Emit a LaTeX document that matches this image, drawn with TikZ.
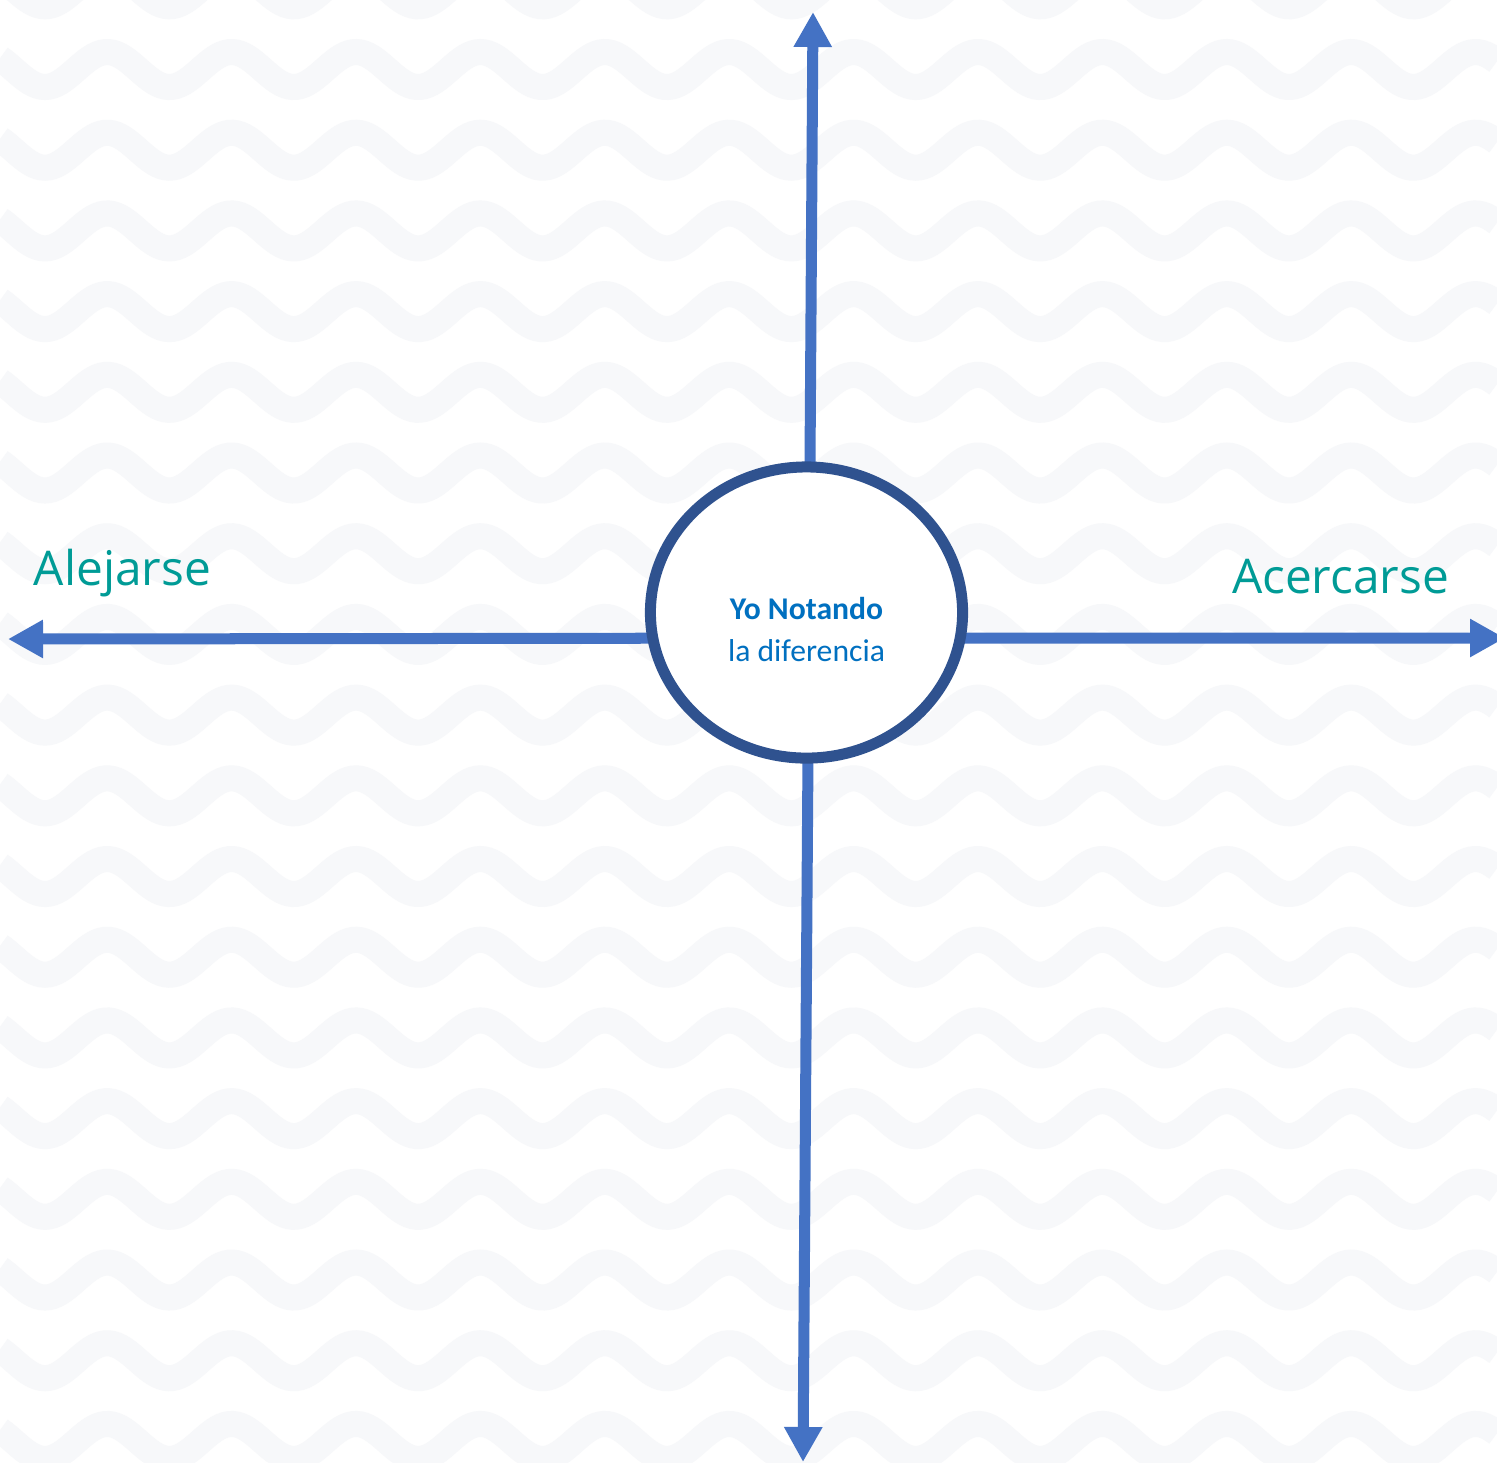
\documentclass[tikz,border=0pt]{standalone}
\usepackage{fontspec}
\usepackage{tikz}
\usetikzlibrary{arrows.meta}
\usetikzlibrary{shapes.geometric}
\usetikzlibrary{backgrounds}
\newfontfamily\sideFont{Open Sans}
\newfontfamily\ringFont{Carlito}
\definecolor{waveGray}{RGB}{247,248,250}
\definecolor{axisBlue}{RGB}{68,114,196}
\definecolor{ringBlue}{RGB}{47,82,143}
\definecolor{textBlue}{RGB}{0,112,192}
\definecolor{labelTeal}{RGB}{0,155,150}
\newcommand{\tikzWaveRow}[1]{\draw[wave] plot[domain=0:1497, samples=400] (\x, {(#1)+17.5*cos((\x-45)/124.4*360)})}

\begin{document}
\begin{tikzpicture}[x=0.01cm, y=-0.01cm,
    wave/.style={line width=0.26cm, draw=waveGray},
    axis/.style={line width=0.11cm, draw=axisBlue, -{Triangle[length=0.35cm, width=0.36cm]}},
    ring/.style={ellipse, draw=ringBlue, line width=0.11cm, fill=white,
                 minimum width=3.12cm, minimum height=2.91cm, inner sep=0pt},
    ringtext/.style={align=center, text=textBlue, inner sep=0pt,
                     font=\ringFont\fontsize{9}{12}\selectfont},
    sidelabel/.style={anchor=base, text=labelTeal, inner sep=0pt,
                      font=\sideFont\fontsize{13.6}{16}\selectfont}]
    \useasboundingbox (0,0) rectangle (1497,1462);
    \node[ring] (yo) at (806.5,612.5) {};
    \node[ringtext] (yolbl) at ([yshift=-0.17cm]yo.center) {\textbf{Yo Notando}\\la diferencia};
    \node[sidelabel] (alejarse) at (122.5,585) {Alejarse};
    \node[sidelabel] (acercarse) at (1340.5,593) {Acercarse};
    \coordinate (upTip) at (813,12);
    \coordinate (downTip) at (803,1462);
    \coordinate (leftTip) at (8,639);
    \coordinate (rightTip) at (1505,638);
    \begin{scope}[on background layer]
        \fill[white] (0,0) rectangle (1497,1462);
        \foreach \row in {-1,...,18}
            \tikzWaveRow{69.5+80.7*\row};
        \draw[axis] ([xshift=0.025cm]yo.center) -- (upTip);
        \draw[axis] ([xshift=0.025cm]yo.center) -- (downTip);
        \draw[axis] ([yshift=-0.255cm]yo.center) -- (leftTip);
        \draw[axis] ([yshift=-0.255cm]yo.center) -- (rightTip);
    \end{scope}
\end{tikzpicture}
\end{document}
